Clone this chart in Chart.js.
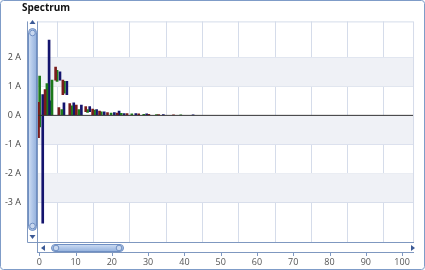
<!DOCTYPE html>
<html>
<head>
<meta charset="utf-8">
<script src="https://cdn.jsdelivr.net/npm/chart.js@4"></script>
<style>
  html, body { margin: 0; padding: 0; background: #fff; }
  #wrap { width: 425px; height: 270px; position: relative; }
</style>
</head>
<body>
<div id="wrap"><canvas id="spectrumChart"></canvas></div>
<script>
// harmonic positions and [low, high] current ranges (A) per phase
const redX   = [-0.2, 1.6, 4.5, 5.4, 6.5, 8.4, 10.2, 12.8, 14.7, 16.6, 18.8, 21.5, 24.2, 27.4, 30.2, 32.9, 37.0];
const redLo  = [-0.77, 0, 1.22, 0, 0.72, 0, 0, 0.13, 0, 0, 0, 0, 0, 0, 0, 0, 0];
const redHi  = [0.45, 0.89, 1.67, 0.27, 1.22, 0.41, 0.36, 0.30, 0.22, 0.15, 0.10, 0.08, 0.06, 0.05, 0.04, 0.03, 0.02];

const greenX  = [0.1, 2.1, 3.5, 4.9, 6.2, 6.9, 8.9, 10.9, 13.3, 15.2, 17.1, 19.8, 22.6, 25.5, 28.8, 32.3, 39.0];
const greenLo = [-0.4, 0, 0, 1.17, 0, 0.77, 0, 0, 0.10, 0, 0, 0, 0, 0, 0, 0, 0];
const greenHi = [1.36, 1.10, 1.22, 1.56, 0.20, 1.18, 0.33, 0.20, 0.20, 0.18, 0.12, 0.08, 0.07, 0.05, 0.04, 0.03, 0.02];

const blueX  = [0.95, 2.7, 3.3, 5.7, 6.8, 7.6, 9.5, 11.6, 13.9, 15.8, 17.9, 20.7, 22.0, 23.4, 26.6, 29.6, 34.2, 42.4];
const blueLo = [-3.73, 0, 0, 1.22, 0, 0.72, 0, 0, 0.13, 0, 0, 0, 0, 0, 0, 0, 0, 0];
const blueHi = [0.72, 2.60, 0.50, 1.51, 0.43, 1.18, 0.43, 0.36, 0.30, 0.20, 0.12, 0.10, 0.15, 0.06, 0.06, 0.05, 0.03, 0.02];

const yTicks = [-3, -2, -1, 0, 1, 2];
const xTicks = [0, 10, 20, 30, 40, 50, 60, 70, 80, 90, 100];

const xMin = -0.63, xMax = 103.3;
const yMin = -4.38, yMax = 3.25;

function toPoints(xs, lo, hi) {
    return xs.map((x, i) => ({ x: x, y: [lo[i], hi[i]] }));
}

// alternating bands + scrollbars + frame
const decorPlugin = {
    id: 'decor',
    beforeDatasetsDraw(chart) {
        const ctx = chart.ctx;
        const a = chart.chartArea;
        const ys = chart.scales.y;
        ctx.save();
        ctx.fillStyle = '#eff1f6';
        [[1, 2], [-1, 0], [-3, -2]].forEach(b => {
            const top = ys.getPixelForValue(b[1]);
            const bot = ys.getPixelForValue(b[0]);
            ctx.fillRect(a.left, top, a.right - a.left, bot - top);
        });
        ctx.restore();
    },
    afterDraw(chart) {
        const ctx = chart.ctx;
        const a = chart.chartArea;
        const xs = chart.scales.x;
        ctx.save();

        // outer frame
        ctx.strokeStyle = '#7f9cc8';
        ctx.lineWidth = 1;
        ctx.beginPath();
        ctx.roundRect(0.5, 0.5, 424, 269, 3);
        ctx.stroke();

        // title
        ctx.fillStyle = '#111';
        ctx.font = 'bold 10px "Open Sans", sans-serif';
        ctx.textBaseline = 'middle';
        ctx.fillText('Spectrum', 22, 8);

        // plot frame
        ctx.strokeStyle = '#d5dcea';
        ctx.strokeRect(a.left + 0.5, a.top + 0.5, a.right - a.left - 1, a.bottom - a.top);
        ctx.strokeStyle = '#7f98c0';
        ctx.beginPath();
        ctx.moveTo(a.left + 0.5, a.top);
        ctx.lineTo(a.left + 0.5, a.bottom + 10);
        ctx.moveTo(a.left, a.bottom + 0.5);
        ctx.lineTo(a.right, a.bottom + 0.5);
        ctx.moveTo(a.left, a.bottom + 10.5);
        ctx.lineTo(a.right, a.bottom + 10.5);
        ctx.stroke();

        // x tick marks under the scrollbar
        ctx.beginPath();
        xTicks.forEach(v => {
            const p = Math.round(xs.getPixelForValue(v)) + 0.5;
            ctx.moveTo(p, a.bottom + 11);
            ctx.lineTo(p, a.bottom + 14);
        });
        ctx.stroke();

        function thumb(x, y, w, h, vertical) {
            const g = vertical ? ctx.createLinearGradient(x, 0, x + w, 0)
                               : ctx.createLinearGradient(0, y, 0, y + h);
            g.addColorStop(0, '#d4e1f4');
            g.addColorStop(0.5, '#b3c9ea');
            g.addColorStop(1, '#98b4de');
            ctx.fillStyle = g;
            ctx.strokeStyle = '#6f8fc3';
            ctx.beginPath();
            ctx.roundRect(x + 0.5, y + 0.5, w, h, 4);
            ctx.fill();
            ctx.stroke();
            ctx.fillStyle = '#c9d8ef';
            const grips = vertical ? [[x + w / 2 + 0.5, y + 5], [x + w / 2 + 0.5, y + h - 4]]
                                   : [[x + 5, y + h / 2 + 0.5], [x + w - 4, y + h / 2 + 0.5]];
            grips.forEach(c => {
                ctx.beginPath();
                ctx.arc(c[0], c[1], 2.8, 0, Math.PI * 2);
                ctx.fill();
                ctx.stroke();
            });
        }
        function arrow(cx, cy, dir) {
            ctx.fillStyle = '#3c5a96';
            ctx.beginPath();
            if (dir === 'up') { ctx.moveTo(cx - 3, cy + 2); ctx.lineTo(cx + 3, cy + 2); ctx.lineTo(cx, cy - 2); }
            if (dir === 'down') { ctx.moveTo(cx - 3, cy - 2); ctx.lineTo(cx + 3, cy - 2); ctx.lineTo(cx, cy + 2); }
            if (dir === 'left') { ctx.moveTo(cx + 2, cy - 3); ctx.lineTo(cx + 2, cy + 3); ctx.lineTo(cx - 2, cy); }
            if (dir === 'right') { ctx.moveTo(cx - 2, cy - 3); ctx.lineTo(cx - 2, cy + 3); ctx.lineTo(cx + 2, cy); }
            ctx.closePath();
            ctx.fill();
        }

        // vertical scrollbar
        ctx.strokeStyle = '#7f98c0';
        ctx.beginPath();
        ctx.moveTo(27.5, a.top);
        ctx.lineTo(27.5, a.bottom + 0.5);
        ctx.lineTo(a.left, a.bottom + 0.5);
        ctx.stroke();
        thumb(28, 28, 8, 202, true);
        arrow(32.5, 22, 'up');
        arrow(32.5, 237, 'down');

        // horizontal scrollbar
        thumb(51, a.bottom + 2, 72, 7, false);
        arrow(43, a.bottom + 6, 'left');
        arrow(413, a.bottom + 6, 'right');

        ctx.restore();
    }
};

const ctx = document.getElementById('spectrumChart').getContext('2d');

new Chart(ctx, {
    type: 'bar',
    data: {
        datasets: [
            {
                type: 'line',
                label: 'zero',
                data: [{ x: xMin, y: 0 }, { x: xMax, y: 0 }],
                borderColor: '#333',
                borderWidth: 1,
                pointRadius: 0,
                order: 0
            },
            {
                label: 'L1',
                data: toPoints(redX, redLo, redHi),
                backgroundColor: '#7a1c1c',
                borderColor: '#3a0a0a',
                borderWidth: 0,
                barThickness: 2,
                order: 1
            },
            {
                label: 'L2',
                data: toPoints(greenX, greenLo, greenHi),
                backgroundColor: '#1c7a1c',
                borderColor: '#0a3a0a',
                borderWidth: 0,
                barThickness: 2,
                order: 1
            },
            {
                label: 'L3',
                data: toPoints(blueX, blueLo, blueHi),
                backgroundColor: '#14146e',
                borderColor: '#0a0a3a',
                borderWidth: 0,
                barThickness: 2,
                order: 1
            }
        ]
    },
    options: {
        responsive: true,
        maintainAspectRatio: false,
        animation: false,
        grouped: false,
        layout: { padding: { left: 0, right: 7, top: 17, bottom: 0 } },
        plugins: {
            legend: { display: false },
            tooltip: { enabled: false },
            title: { display: false }
        },
        scales: {
            x: {
                type: 'linear',
                offset: false,
                min: xMin,
                max: xMax,
                afterBuildTicks: s => { s.ticks = xTicks.map(v => ({ value: v })); },
                afterFit: s => { s.height = 28; },
                grid: { color: '#d5dcea', drawTicks: false },
                border: { display: false },
                ticks: {
                    padding: 15,
                    color: '#555',
                    font: { size: 9, family: '"Open Sans", sans-serif' },
                    maxRotation: 0
                }
            },
            y: {
                min: yMin,
                max: yMax,
                afterBuildTicks: s => { s.ticks = yTicks.map(v => ({ value: v })); },
                afterFit: s => { s.width = 37; },
                grid: { color: '#d5dcea', drawTicks: false },
                border: { display: false },
                ticks: {
                    padding: 16,
                    color: '#444',
                    font: { size: 9, family: '"Open Sans", sans-serif' },
                    callback: v => v + ' A'
                }
            }
        }
    },
    plugins: [decorPlugin]
});
</script>
</body>
</html>
